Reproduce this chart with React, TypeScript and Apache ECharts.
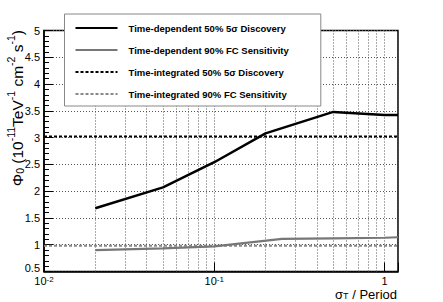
import React, { useEffect, useRef } from "react";
import * as echarts from "echarts";

const FONT = "Liberation Sans";

// Time-dependent 50% 5σ discovery
const tdDiscX = [0.02, 0.05, 0.1, 0.2, 0.5, 1.0, 1.2];
const tdDiscY = [1.68, 2.07, 2.54, 3.08, 3.48, 3.42, 3.42];
// Time-dependent 90% FC sensitivity
const tdSensX = [0.02, 0.05, 0.1, 0.25, 0.5, 1.0, 1.2];
const tdSensY = [0.9, 0.93, 0.97, 1.11, 1.12, 1.13, 1.14];
// Time-integrated (constant) levels
const tiRangeX = [0.01, 1.2];
const tiDiscLevel = 3.02;
const tiSensLevel = 0.98;
// Minor log grid positions
const minorGridX = [0.02, 0.03, 0.04, 0.05, 0.06, 0.07, 0.08, 0.09, 0.2, 0.3, 0.4, 0.5, 0.6, 0.7, 0.8, 0.9];

const seriesNames = [
  "Time-dependent 50% 5σ Discovery",
  "Time-dependent 90% FC Sensitivity",
  "Time-integrated 50% 5σ Discovery",
  "Time-integrated 90% FC Sensitivity",
];

export default function App() {
  const ref = useRef<HTMLDivElement>(null);
  useEffect(() => {
    if (!ref.current) return;
    const chart = echarts.init(ref.current, null, { renderer: "svg" });
    const gridLine = { type: [1, 2] as any, color: "#555", width: 1 };
    const option: any = {
      animation: false,
      backgroundColor: "#fff",
      textStyle: { fontFamily: FONT },
      grid: {
        left: 44,
        right: 45,
        top: 30.5,
        bottom: 30.5,
        show: true,
        borderColor: "#000",
        borderWidth: 1.5,
        backgroundColor: "transparent",
      },
      legend: {
        left: 64.5,
        top: 14,
        orient: "vertical",
        data: seriesNames,
        itemWidth: 42,
        itemHeight: 12,
        itemGap: 10,
        padding: [8, 32, 6, 10],
        backgroundColor: "#fff",
        borderColor: "#888",
        borderWidth: 1,
        borderRadius: 0,
        selectedMode: false,
        itemStyle: { opacity: 0 },
        textStyle: {
          fontFamily: FONT,
          fontWeight: "bold",
          fontSize: 9.5,
          lineHeight: 12,
          color: "#000",
          padding: [0, 0, 0, 6],
        },
      },
      xAxis: {
        type: "log",
        logBase: 10,
        min: 0.01,
        max: 1.2,
        axisLine: { show: true, lineStyle: { color: "#000", width: 1.5 } },
        axisTick: { show: true, inside: true, length: 9, lineStyle: { color: "#000" } },
        splitLine: { show: true, lineStyle: gridLine },
        axisLabel: {
          margin: 4,
          color: "#000",
          formatter: (v: number) => {
            const e = Math.round(Math.log10(v));
            if (Math.abs(Math.log10(v) - e) > 1e-6) return "";
            if (e === 0) return "{b|1}";
            return "{b|10}{p|" + e + "}";
          },
          rich: {
            b: { fontSize: 11, fontFamily: FONT, color: "#000", lineHeight: 11, verticalAlign: "bottom" },
            p: { fontSize: 8, fontFamily: FONT, color: "#000", lineHeight: 11, verticalAlign: "top", padding: [0, 0, 5, 0] },
          },
        },
      },
      yAxis: {
        type: "value",
        min: 0.5,
        max: 5,
        interval: 0.5,
        axisLine: { show: true, lineStyle: { color: "#000", width: 1.5 } },
        axisTick: { show: true, inside: true, length: 9, lineStyle: { color: "#000" } },
        minorTick: { show: true, splitNumber: 5, length: 5, lineStyle: { color: "#000" } },
        splitLine: { show: true, lineStyle: gridLine },
        axisLabel: {
          margin: 4,
          fontSize: 11,
          color: "#000",
          fontFamily: FONT,
          formatter: (v: number) => (v === 0.5 ? "{low|0.5}" : String(v)),
          rich: {
            low: { fontSize: 11, fontFamily: FONT, color: "#000", lineHeight: 11, padding: [0, 0, 7, 0] },
          },
        },
      },
      series: [
        {
          name: seriesNames[0],
          type: "line",
          showSymbol: false,
          symbol: "none",
          data: tdDiscX.map((x, i) => [x, tdDiscY[i]]),
          lineStyle: { color: "#000", width: 2.5 },
          itemStyle: { color: "#000" },
          z: 5,
          markLine: {
            silent: true,
            symbol: ["none", "none"],
            label: { show: false },
            lineStyle: gridLine,
            z: 1,
            data: minorGridX.map((v) => ({ xAxis: v })),
          },
        },
        {
          name: seriesNames[1],
          type: "line",
          showSymbol: false,
          symbol: "none",
          data: tdSensX.map((x, i) => [x, tdSensY[i]]),
          lineStyle: { color: "#777", width: 2.2 },
          itemStyle: { color: "#777" },
          z: 5,
        },
        {
          name: seriesNames[2],
          type: "line",
          showSymbol: false,
          symbol: "none",
          data: tiRangeX.map((x) => [x, tiDiscLevel]),
          lineStyle: { color: "#000", width: 2, type: [3, 2] },
          itemStyle: { color: "#000" },
          z: 4,
        },
        {
          name: seriesNames[3],
          type: "line",
          showSymbol: false,
          symbol: "none",
          data: tiRangeX.map((x) => [x, tiSensLevel]),
          lineStyle: { color: "#888", width: 2, type: [3, 2] },
          itemStyle: { color: "#888" },
          z: 4,
        },
      ],
      graphic: [
        {
          type: "text",
          x: 15,
          y: 30,
          rotation: Math.PI / 2,
          style: {
            text: "{a|Φ}{s|0}{a| (10}{p|-11}{a|TeV}{p|-1}{a| cm}{p|-2}{a| s}{p|-1}{a|)}",
            align: "right",
            verticalAlign: "middle",
            fill: "#000",
            rich: {
              a: { fontSize: 15.5, fontFamily: FONT, lineHeight: 20, verticalAlign: "bottom" },
              s: { fontSize: 10.5, fontFamily: FONT, lineHeight: 20, verticalAlign: "bottom", padding: [5, 0, 0, 0] },
              p: { fontSize: 10.5, fontFamily: FONT, lineHeight: 20, verticalAlign: "top", padding: [0, 0, 9, 0] },
            },
          },
        },
        {
          type: "text",
          x: 397,
          y: 294,
          style: {
            text: "{a|σ}{s|T}{a| / Period}",
            align: "right",
            verticalAlign: "middle",
            fill: "#000",
            rich: {
              a: { fontSize: 13, fontFamily: FONT, lineHeight: 13, verticalAlign: "bottom" },
              s: { fontSize: 9, fontFamily: FONT, lineHeight: 13, verticalAlign: "bottom", padding: [3, 0, 0, 0] },
            },
          },
        },
      ],
    };
    chart.setOption(option);
    return () => chart.dispose();
  }, []);
  return <div ref={ref} style={{ width: 443, height: 302, position: "absolute", left: 0, top: 0 }} />;
}
